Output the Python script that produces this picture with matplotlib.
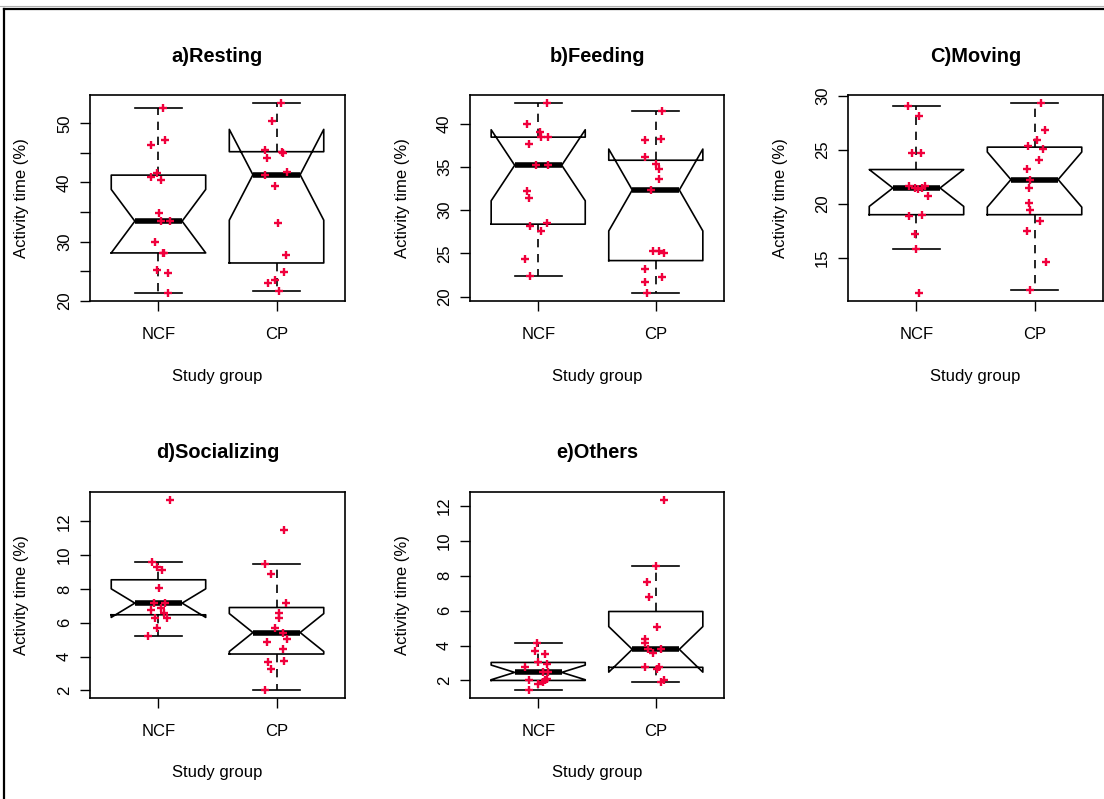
import matplotlib
matplotlib.use("Agg")
import matplotlib.pyplot as plt
from matplotlib.lines import Line2D
import numpy as np

plt.rcParams["font.family"] = ["Liberation Sans", "DejaVu Sans"]

groups = ["NCF", "CP"]
n_per_group = 15

# box summaries: lower whisker, lower hinge, median, upper hinge, upper whisker
resting_ncf_box = [21.24, 28.08, 33.45, 41.24, 52.66]
resting_cp_box = [21.58, 26.38, 41.30, 45.20, 53.50]
feeding_ncf_box = [22.44, 28.39, 35.20, 38.45, 42.44]
feeding_cp_box = [20.39, 24.18, 32.34, 35.78, 41.47]
moving_ncf_box = [15.78, 18.98, 21.46, 23.17, 29.07]
moving_cp_box = [11.99, 18.98, 22.24, 25.25, 29.38]
social_ncf_box = [5.22, 6.47, 7.16, 8.54, 9.59]
social_cp_box = [2.00, 4.15, 5.42, 6.90, 9.49]
others_ncf_box = [1.43, 2.00, 2.46, 3.03, 4.16]
others_cp_box = [1.90, 2.75, 3.78, 5.95, 8.57]

# individual observations (% of activity time) and their horizontal jitter
resting_ncf = [52.66, 46.27, 47.12, 41.53, 40.96, 40.45, 34.86, 33.45, 33.45,
               29.89, 28.15, 28.00, 25.14, 24.63, 21.24]
resting_ncf_jit = [0.041, -0.064, 0.055, -0.010, -0.064, 0.018, 0.004, 0.018,
                   0.097, -0.027, 0.047, 0.041, -0.013, 0.083, 0.083]
resting_cp = [53.50, 50.45, 45.42, 45.14, 44.92, 44.07, 41.30, 41.81, 39.32,
              33.22, 27.68, 24.86, 23.56, 22.94, 21.58]
resting_cp_jit = [0.038, -0.041, -0.095, 0.044, 0.058, -0.083, -0.095, 0.092,
                  -0.016, 0.013, 0.078, 0.066, -0.016, -0.069, 0.024]

feeding_ncf = [42.44, 40.00, 39.03, 38.45, 38.45, 37.68, 35.20, 35.20, 32.18,
               31.41, 28.20, 28.51, 27.62, 24.37, 22.44]
feeding_ncf_jit = [0.071, -0.094, 0.014, 0.028, 0.085, -0.079, -0.020, 0.085,
                   -0.094, -0.079, -0.068, 0.071, 0.028, -0.110, -0.068]
feeding_cp = [41.47, 38.07, 38.26, 36.13, 35.40, 34.82, 33.66, 32.34, 25.30,
              25.30, 25.11, 23.21, 22.24, 21.66, 20.39]
feeding_cp_jit = [0.057, -0.094, 0.043, -0.094, 0.000, 0.028, 0.028, -0.040,
                  -0.028, 0.028, 0.071, -0.094, 0.057, -0.094, -0.079]

moving_ncf = [29.07, 28.14, 24.66, 24.66, 21.61, 21.46, 21.46, 21.61, 20.68,
              18.82, 18.98, 17.17, 15.78, 11.68, 21.40]
moving_ncf_jit = [-0.076, 0.023, -0.034, 0.037, -0.062, -0.014, 0.045, 0.070,
                  0.099, -0.062, 0.045, -0.014, 0.000, 0.023, 0.010]
moving_cp = [29.38, 26.80, 25.87, 25.40, 25.09, 24.04, 23.26, 22.24, 21.46,
             20.06, 19.44, 18.42, 17.48, 14.57, 11.99]
moving_cp_jit = [0.056, 0.085, 0.017, -0.056, 0.071, 0.042, -0.065, -0.037,
                 -0.051, -0.051, -0.037, 0.045, -0.065, 0.096, -0.037]

social_ncf = [13.28, 9.59, 9.29, 9.09, 8.03, 7.16, 7.16, 6.86, 6.76, 6.57,
              6.27, 6.27, 5.70, 5.22]
social_ncf_jit = [0.097, -0.052, -0.010, 0.030, 0.004, -0.038, 0.058, 0.018,
                  -0.066, 0.044, -0.027, 0.072, -0.010, -0.092]
social_cp = [11.51, 9.49, 8.90, 7.16, 6.57, 6.27, 5.70, 5.42, 5.02, 4.89,
             4.43, 3.74, 3.66, 3.26, 2.00]
social_cp_jit = [0.063, -0.095, -0.044, 0.078, 0.024, 0.024, -0.016, 0.052,
                 0.092, -0.083, 0.052, 0.063, -0.069, -0.044, -0.095]

others_ncf = [4.16, 3.69, 3.49, 3.03, 2.94, 2.75, 2.46, 2.46, 2.08, 2.02,
              2.00, 1.89, 1.81, 1.43]
others_ncf_jit = [-0.011, -0.026, 0.057, 0.000, 0.071, -0.110, 0.043, 0.085,
                  0.071, 0.057, -0.079, 0.043, 0.000, -0.079]
others_cp = [12.36, 8.57, 7.63, 6.79, 5.08, 4.36, 4.13, 3.78, 3.59, 3.78,
             2.75, 2.75, 2.65, 1.90, 2.00]
others_cp_jit = [0.068, 0.000, -0.079, -0.054, 0.014, -0.094, -0.094, -0.068,
                 -0.026, 0.043, -0.094, 0.028, 0.014, 0.043, 0.071]

titles = ["a)Resting", "b)Feeding", "C)Moving", "d)Socializing", "e)Others"]
y_ticks = [np.arange(20, 51, 5), np.arange(20, 41, 5), np.arange(15, 31, 5),
           np.arange(2, 13, 2), np.arange(2, 13, 2)]
y_labels = [["20", "", "30", "", "40", "", "50"], None, None, None, None]

panels = [
    (resting_ncf_box, resting_cp_box, resting_ncf, resting_cp, resting_ncf_jit, resting_cp_jit),
    (feeding_ncf_box, feeding_cp_box, feeding_ncf, feeding_cp, feeding_ncf_jit, feeding_cp_jit),
    (moving_ncf_box, moving_cp_box, moving_ncf, moving_cp, moving_ncf_jit, moving_cp_jit),
    (social_ncf_box, social_cp_box, social_ncf, social_cp, social_ncf_jit, social_cp_jit),
    (others_ncf_box, others_cp_box, others_ncf, others_cp, others_ncf_jit, others_cp_jit),
]


def box_stats(box, n):
    lo, q1, med, q3, hi = box
    # notch half-width as in R's boxplot.stats
    half = 1.58 * (q3 - q1) / np.sqrt(n)
    return dict(whislo=lo, q1=q1, med=med, q3=q3, whishi=hi,
                cilo=med - half, cihi=med + half, fliers=[])


W, H = 1104, 799
fig = plt.figure(figsize=(W / 100, H / 100), dpi=100)

# axes frames in pixels: left, top, right, bottom
frames = [(90, 95, 345, 301), (470, 95, 724, 301), (848, 95, 1103, 301),
          (90, 492, 345, 698), (470, 492, 724, 698)]

for i, (fr, pdata) in enumerate(zip(frames, panels)):
    l, t, r, b = fr
    ax = fig.add_axes([l / W, (H - b) / H, (r - l) / W, (b - t) / H])
    ncf_box, cp_box, ncf, cp, ncf_jit, cp_jit = pdata

    stats = [box_stats(ncf_box, n_per_group), box_stats(cp_box, n_per_group)]
    ax.bxp(stats, positions=[1, 2], widths=0.8, shownotches=True, showfliers=False,
           boxprops=dict(color="black", lw=1.2),
           whiskerprops=dict(color="black", lw=1.2, linestyle=(0, (5, 4))),
           capprops=dict(color="black", lw=1.2),
           medianprops=dict(color="black", lw=4, solid_capstyle="butt"))

    ax.plot(1 + np.array(ncf_jit), ncf, "+", color="#f0003c", ms=5.5, mew=1.7, zorder=5)
    ax.plot(2 + np.array(cp_jit), cp, "+", color="#f0003c", ms=5.5, mew=1.7, zorder=5)

    allv = np.concatenate([ncf, cp])
    span = allv.max() - allv.min()
    ax.set_ylim(allv.min() - 0.04 * span, allv.max() + 0.04 * span)
    ax.set_xlim(0.42, 2.58)

    ax.set_xticks([1, 2], groups)
    if y_labels[i] is None:
        ax.set_yticks(y_ticks[i], [str(v) for v in y_ticks[i]])
    else:
        ax.set_yticks(y_ticks[i], y_labels[i])
    for lab in ax.get_yticklabels():
        lab.set_rotation(90)
        lab.set_va("center")
    ax.tick_params(axis="both", length=7, width=1, labelsize=12, color="black")
    ax.tick_params(axis="x", pad=12)
    ax.tick_params(axis="y", pad=6)
    for sp in ax.spines.values():
        sp.set_linewidth(1.2)

    ax.text(0.5, 1 + 39 / (b - t), titles[i], transform=ax.transAxes,
            ha="center", va="center", fontsize=14.4, fontweight="bold")
    ax.text(0.5, -75 / (b - t), "Study group", transform=ax.transAxes,
            ha="center", va="center", fontsize=12)
    ax.text(-68 / (r - l), 0.5, "Activity time (%)", transform=ax.transAxes,
            ha="center", va="center", rotation=90, fontsize=12)

# outer frame
fig.add_artist(Line2D([4 / W, 4 / W], [0, 1 - 9 / H], color="black", lw=1.6))
fig.add_artist(Line2D([4 / W, 1], [1 - 9 / H, 1 - 9 / H], color="black", lw=1.6))
fig.add_artist(Line2D([0, 1], [1 - 6 / H, 1 - 6 / H], color="#b0b0b0", lw=0.8))

fig.savefig("out.png", dpi=100)
